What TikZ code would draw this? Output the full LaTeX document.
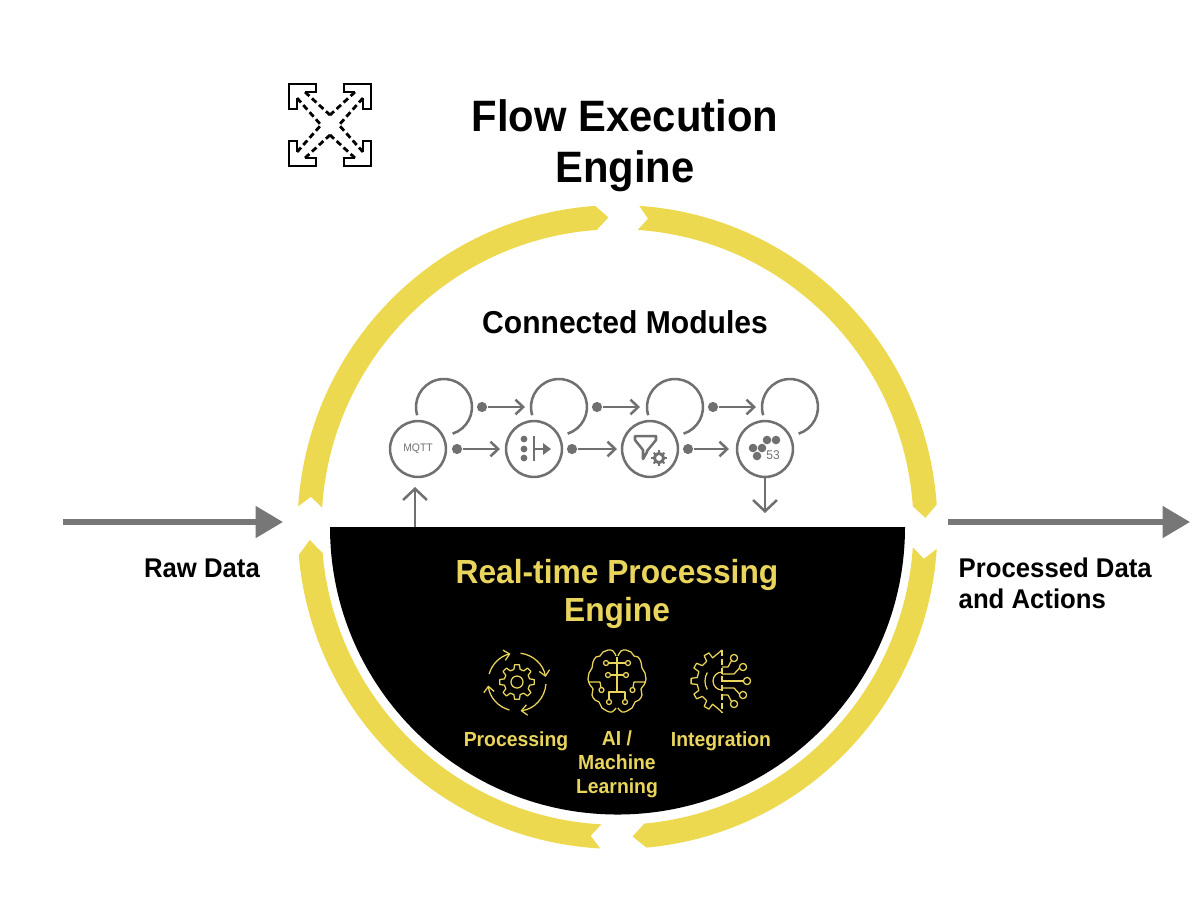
\documentclass[tikz,border=0pt]{standalone}
\usepackage{fontspec}
\setmainfont[FakeStretch=0.95]{Liberation Sans}
\usetikzlibrary{arrows.meta}

\definecolor{ringyellow}{HTML}{EDD94F}
\definecolor{textyellow}{HTML}{E9D45C}
\definecolor{modgray}{HTML}{707070}
\definecolor{flowgray}{HTML}{777777}

% one clockwise piece of the ring: tail, notch, shoulder, tip
\newcommand{\ringpiece}[4]{
  \fill[ringyellow] (#1:320) arc[start angle=#1,end angle=#3,radius=320]
    -- (#4:308) -- (#3:296) arc[start angle=#3,end angle=#1,radius=296]
    -- (#2:308) -- cycle;
}

\begin{document}
\begin{tikzpicture}[
      x=0.01cm, y=0.01cm, yscale=-1,
      title/.style={font=\fontsize{12.5}{14.5}\selectfont\bfseries,align=center},
      heading/.style={font=\fontsize{9}{10}\selectfont\bfseries},
      flowlabel/.style={font=\fontsize{7.7}{8.8}\selectfont\bfseries,align=left,inner sep=0pt},
      enginetitle/.style={font=\fontsize{9.5}{10.8}\selectfont\bfseries,
                          text=textyellow,align=center},
      enginelabel/.style={font=\fontsize{5.8}{6.8}\selectfont\bfseries,
                          text=textyellow,align=center},
      modnode/.style={draw=modgray,line width=0.72pt,circle,minimum size=15.9pt,
                      inner sep=0pt,text=modgray,font=\fontsize{3.1}{3}\selectfont},
      dotnode/.style={fill=modgray,circle,minimum size=2.9pt,inner sep=0pt},
      conn/.style={draw=modgray,line width=0.72pt,
                   -{Straight Barb[length=2.2pt,width=4.2pt]}},
      bigconn/.style={draw=modgray,line width=0.72pt,
                      -{Straight Barb[length=3.2pt,width=6.8pt]}},
      flow/.style={draw=flowgray,line width=1.5pt,
                   -{Triangle[length=7.8pt,width=8.8pt]}},
      icon/.style={draw=textyellow,line width=0.36pt,line join=round},
      iconarrow/.style={icon,-{Straight Barb[length=1.6pt,width=3pt]}}
    ]
    \useasboundingbox (0,0) rectangle (1200,896);

    % Yellow ring
    \begin{scope}[shift={(617.5,527)},yscale=1.006]
      \ringpiece{-176.3}{-174.4}{-94}{-91.7}
      \ringpiece{-86.1}{-84.3}{-4}{-1.7}
      \ringpiece{3.9}{5.9}{84.8}{87.2}
      \ringpiece{93.1}{95}{175}{177.6}
    \end{scope}

    % Black half disc
    \fill[black] (330,527) arc[start angle=180,end angle=0,radius=287.5] -- cycle;

    % Titles
    \node[title] (flowtitle) at (625,146) {Flow Execution\\Engine};
    \node[heading] (modtitle) at (625,322) {Connected Modules};
    \node[enginetitle] (enginetitle) at (617,594) {Real-time Processing\\Engine};

    % Expand icon
    \begin{scope}[shift={(330,125)},line width=0.8pt]
      \foreach \sx/\sy in {1/1,-1/1,1/-1,-1/-1}{
        \begin{scope}[xscale=\sx,yscale=\sy]
          \draw[line join=miter] (-25,-33) -- (-14,-33) -- (-14,-41) -- (-41,-41)
            -- (-41,-16) -- (-33,-16) -- (-33,-27);
          \draw[dash pattern=on 1.7pt off 1pt] (-25,-33) -- (0,-10);
          \draw[dash pattern=on 1.7pt off 1pt] (-33,-27) -- (-9,0);
        \end{scope}
      }
    \end{scope}

    % Modules
    \node[modnode] (mqtt) at (418,449) {MQTT};
    \node[modnode] (split) at (534,449) {};
    \node[modnode] (filter) at (650,449) {};
    \node[modnode] (stats) at (765,449) {};

    % Loops above the modules
    \foreach \x in {444,559,675,790}
      \draw[modgray,line width=0.72pt] (\x,407) ++(163:28)
        arc[start angle=163,end angle=432,radius=28];

    % Dots and arrows between modules
    \node[dotnode] (dota) at (457,449) {};
    \node[dotnode] (dotb) at (572,449) {};
    \node[dotnode] (dotc) at (688,449) {};
    \node[dotnode] (dotd) at (482,407) {};
    \node[dotnode] (dote) at (597,407) {};
    \node[dotnode] (dotf) at (713,407) {};
    \coordinate (enda) at (500,449);
    \coordinate (endb) at (617,449);
    \coordinate (endc) at (729,449);
    \coordinate (endd) at (525,407);
    \coordinate (ende) at (640,407);
    \coordinate (endf) at (756,407);
    \foreach \a in {a,b,c,d,e,f}
      \draw[conn] (dot\a) -- (end\a);

    % In and out of the engine
    \coordinate (upstart) at (415,527);
    \coordinate (uptip) at (415,487);
    \coordinate (downtip) at (765,513);
    \draw[bigconn] (upstart) -- (uptip);
    \draw[bigconn] (stats) -- (downtip);

    % Split icon
    \begin{scope}[shift={(534,449)}]
      \foreach \y in {-10,0,9}
        \fill[modgray] (-10,\y) circle (3.4);
      \draw[modgray,line width=0.8pt] (0,-13) -- (0,12);
      \draw[modgray,line width=0.8pt] (0,0) -- (10,0);
      \fill[modgray] (9,-6) -- (17,0) -- (9,6) -- cycle;
    \end{scope}

    % Filter icon
    \begin{scope}[shift={(650,449)}]
      \draw[modgray,line width=0.72pt,line join=round] (-15,-13) -- (6,-13) -- (6,-9)
        -- (-3,2) -- (-3,3) -- (-7,10) -- (-7,1) -- (-15,-9) -- cycle;
      \draw[modgray,line width=0.85pt] (9,9) circle (4.6);
      \foreach \a in {0,45,...,315}
        \draw[modgray,line width=0.6pt] (9,9) ++(\a:4.6) -- ++(\a:3);
    \end{scope}

    % Stats icon
    \begin{scope}[shift={(765,449)}]
      \foreach \x/\y in {2/-9,11/-9,-12/-1,-3/-1,-8/7}
        \fill[modgray] (\x,\y) circle (4.3);
      \node[text=modgray,font=\fontsize{3.6}{4}\selectfont] (statsnum) at (8,6) {53};
    \end{scope}

    % Raw data and processed data
    \coordinate (rawstart) at (63,522);
    \coordinate (rawend) at (283,522);
    \coordinate (donestart) at (948,522);
    \coordinate (doneend) at (1190,522);
    \draw[flow] (rawstart) -- (rawend);
    \draw[flow] (donestart) -- (doneend);
    \node[flowlabel] (rawlabel) at (202,568) {Raw Data};
    \node[flowlabel,anchor=west] (donelabel) at (958,583) {Processed Data\\and Actions};

    % Processing icon
    \begin{scope}[shift={(517,682)}]
      \draw[iconarrow] (196:29) arc[start angle=196,end angle=257,radius=29];
      \draw[iconarrow] (277:29) arc[start angle=277,end angle=350,radius=29];
      \draw[iconarrow] (4:29) arc[start angle=4,end angle=83,radius=29];
      \draw[iconarrow] (105:29) arc[start angle=105,end angle=173,radius=29];
      \draw[icon] (-8:17.5) \foreach \a in {0,45,...,315}{
          -- (\a-8:17.5) -- (\a+8:17.5) -- (\a+14:13) -- (\a+31:13) } -- cycle;
      \draw[icon] (0,0) circle (6);
    \end{scope}

    % Brain icon
    \begin{scope}[shift={(617,681)}]
      \draw[icon] (0,-24) -- (0,11);
      \foreach \s in {1,-1}{
        \begin{scope}[xscale=\s]
          \draw[icon] plot[smooth,tension=0.7] coordinates {(1,-25) (4,-30) (9,-31)
            (14,-29) (17,-25) (21,-24) (24,-19) (25,-13) (28,-8) (29,-2) (27,4)
            (24,8) (25,14) (22,19) (18,21) (15,27) (10,30) (5,31) (1,27)};
          \draw[icon] (0,-18) -- (8.5,-18);
          \draw[icon] (11,-18) circle (2.5);
          \draw[icon] (0,-6) -- (6.5,-6);
          \draw[icon] (9,-6) circle (2.5);
          \draw[icon] (28,1) -- (17,1) -- (16,6.5);
          \draw[icon] (15.5,9) circle (2.5);
          \draw[icon] (0,11) -- (8,11) -- (8,18.5);
          \draw[icon] (8,21) circle (2.5);
        \end{scope}
      }
    \end{scope}

    % Integration icon
    \begin{scope}[shift={(722,681)}]
      \draw[icon] (0,-31) \foreach \a in {240,210,180,150,120}{
          -- (\a+8:25) -- (\a+5:31) -- (\a-5:31) -- (\a-8:25) } -- (0,31);
      \draw[icon,dash pattern=on 1.7pt off 0.8pt] (0,-31) -- (0,31);
      \draw[icon] (150:17) arc[start angle=150,end angle=210,radius=17];
      \draw[icon] (0,-9) arc[start angle=270,end angle=90,radius=9];
      \draw[icon] (0,-14) -- (6,-14) -- (9.5,-20.5);
      \draw[icon] (12,-23) circle (3.6);
      \draw[icon] (0,-7) -- (12,-7) -- (17.5,-13);
      \draw[icon] (21,-14) circle (3.6);
      \draw[icon] (0,0) -- (21.5,0);
      \draw[icon] (25,0) circle (3.6);
      \draw[icon] (0,7) -- (12,7) -- (17.5,13);
      \draw[icon] (21,14) circle (3.6);
      \draw[icon] (0,14) -- (6,14) -- (9.5,20.5);
      \draw[icon] (12,23) circle (3.6);
    \end{scope}

    % Engine labels
    \node[enginelabel] (proclabel) at (516,741) {Processing};
    \node[enginelabel] (ailabel) at (617,764) {AI /\\Machine\\Learning};
    \node[enginelabel] (intlabel) at (721,741) {Integration};

  \end{tikzpicture}
\end{document}
